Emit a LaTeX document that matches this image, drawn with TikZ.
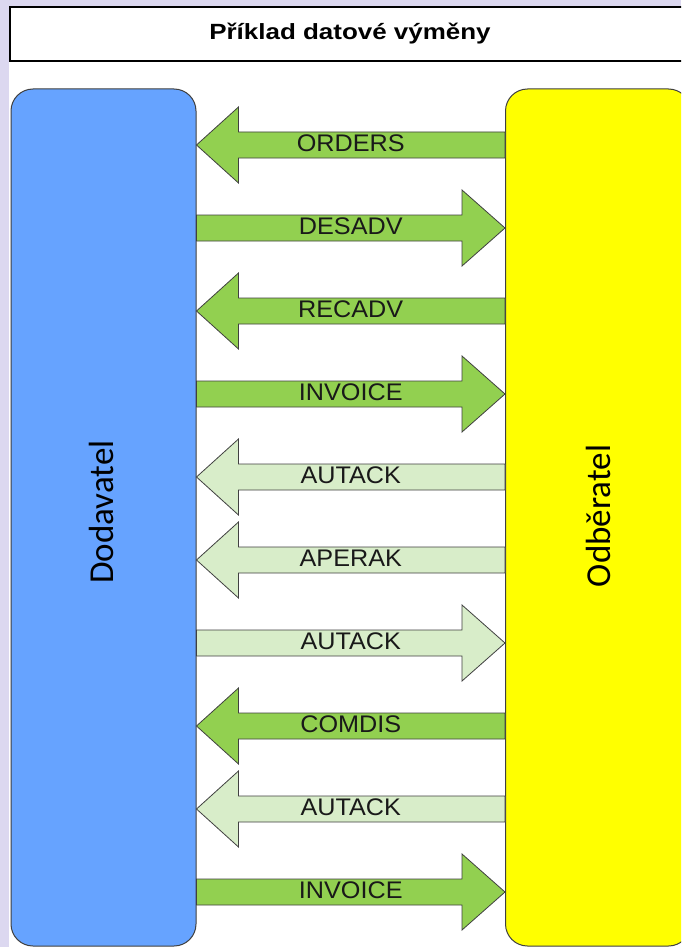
\documentclass[tikz,border=0pt]{standalone}
\usepackage{fontspec}
\setmainfont{Liberation Sans}
\newfontfamily\calib{Carlito}
\usetikzlibrary{calc}
\definecolor{bgpurple}{HTML}{DCD8F0}
\definecolor{dodblue}{HTML}{66A3FF}
\definecolor{odbyellow}{HTML}{FFFF00}
\definecolor{darkgr}{HTML}{92D050}
\definecolor{lightgr}{HTML}{D8EDC9}
\definecolor{edgegray}{HTML}{404040}
\tikzset{
  titlebox/.style={draw=black, line width=1.2pt, fill=white, minimum width=680, minimum height=54, inner sep=0pt},
  party/.style={draw=edgegray, line width=1pt, rounded corners=22pt, minimum width=185, minimum height=857, inner sep=0pt},
  partytext/.style={font=\calib\fontsize{35}{40}\selectfont, inner sep=0pt},
  blockarrow/.style={draw=edgegray, line width=0.8pt, line join=miter},
  lbl/.style={font=\fontsize{24}{28}\selectfont, text=black!90, inner sep=0pt}
}
\newcommand{\arrL}[3]{%
  \coordinate (t) at (dod.east |- 0,#1);
  \coordinate (s) at (odb.west |- 0,#1);
  \draw[blockarrow, fill=#2] (t) -- ($(t)+(42,-38)$) -- ($(t)+(42,-13)$) -- ($(s)+(0,-13)$)
     -- ($(s)+(0,13)$) -- ($(t)+(42,13)$) -- ($(t)+(42,38)$) -- cycle;
  \node[lbl] at ($(t)!0.5!(s)+(0,-2)$) {\scalebox{1.05}[1]{#3}};
}
\newcommand{\arrR}[3]{%
  \coordinate (s) at (dod.east |- 0,#1);
  \coordinate (t) at (odb.west |- 0,#1);
  \draw[blockarrow, fill=#2] (t) -- ($(t)+(-43,-38)$) -- ($(t)+(-43,-13)$) -- ($(s)+(0,-13)$)
     -- ($(s)+(0,13)$) -- ($(t)+(-43,13)$) -- ($(t)+(-43,38)$) -- cycle;
  \node[lbl] at ($(t)!0.5!(s)+(0,-2)$) {\scalebox{1.05}[1]{#3}};
}
\begin{document}
\begin{tikzpicture}[x=1pt,y=-1pt]
\useasboundingbox (0,0) rectangle (681,947);
\clip (0,0) rectangle (681,947);
\fill[bgpurple] (0,0) rectangle (681,947);
\fill[white] (9,7) rectangle (681,947);
\node[titlebox] (title) at (350,34) {\fontsize{22}{26}\selectfont\scalebox{1.18}[1]{\bfseries Příklad datové výměny}};
\node[party, fill=dodblue] (dod) at (103.5,517.5) {};
\node[party, fill=odbyellow] (odb) at (598,517.5) {};
\node[partytext] (dodtxt) at (101,512) {\rotatebox{90}{Dodavatel}};
\node[partytext] (odbtxt) at (598,516) {\rotatebox{90}{Odběratel}};
\arrL{145}{darkgr}{ORDERS}
\arrR{228}{darkgr}{DESADV}
\arrL{311}{darkgr}{RECADV}
\arrR{394}{darkgr}{INVOICE}
\arrL{477}{lightgr}{AUTACK}
\arrL{560}{lightgr}{APERAK}
\arrR{643}{lightgr}{AUTACK}
\arrL{726}{darkgr}{COMDIS}
\arrL{809}{lightgr}{AUTACK}
\arrR{892}{darkgr}{INVOICE}
\end{tikzpicture}
\end{document}
